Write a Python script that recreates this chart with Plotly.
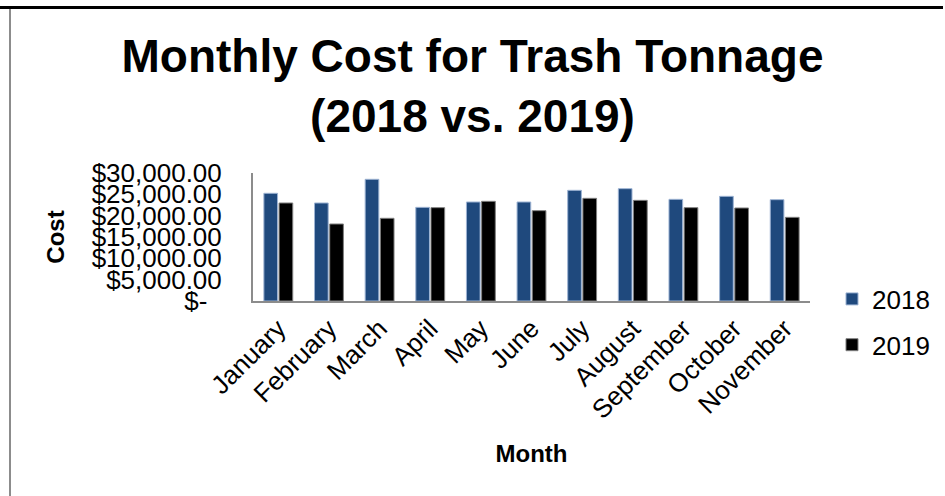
import plotly.graph_objects as go

months = ["January", "February", "March", "April", "May", "June", "July",
          "August", "September", "October", "November"]
cost_2018 = [25240, 22970, 28520, 21950, 23200, 23200, 25940, 26330, 23830, 24530, 23750]
cost_2019 = [22970, 18050, 19380, 21880, 23360, 21170, 24060, 23590, 21880, 21800, 19610]
tick_vals = [0, 5000, 10000, 15000, 20000, 25000, 30000]
tick_text = ["$-\u00a0\u00a0", "$5,000.00", "$10,000.00", "$15,000.00",
             "$20,000.00", "$25,000.00", "$30,000.00"]

W, H = 945, 496
L, R, T, B = 253, 810, 173, 301
PW, PH = R - L, B - T


def px(x):
    return (x - L) / PW


def py(y):
    return (B - y) / PH


FONT = "Arial, Liberation Sans, sans-serif"

fig = go.Figure()
fig.add_trace(go.Bar(x=months, y=cost_2018, name="2018", legendgroup="a",
                     marker=dict(color="#1F497D", line=dict(color="#9DB3D3", width=1))))
fig.add_trace(go.Bar(x=months, y=cost_2019, name="2019", legendgroup="b",
                     marker=dict(color="#000000", line=dict(color="#7F7F7F", width=1))))

fig.update_layout(
    width=W, height=H,
    margin=dict(l=L, r=W - R, t=T, b=H - B, autoexpand=False),
    paper_bgcolor="white", plot_bgcolor="white",
    font=dict(family=FONT, color="black"),
    bargap=0.4, bargroupgap=0.1,
    title=dict(text="<b>Monthly Cost for Trash Tonnage<br>(2018 vs. 2019)</b>",
               x=0.5, xanchor="center", xref="container",
               y=1 - 72 / H, yanchor="middle", yref="container",
               font=dict(size=46, family=FONT, color="black")),
    legend=dict(x=px(832), xanchor="left", y=py(322), yanchor="middle",
                traceorder="grouped", tracegroupgap=9,
                font=dict(size=26, family=FONT, color="black"),
                bgcolor="rgba(0,0,0,0)"),
    xaxis=dict(showline=True, linecolor="#8C8C8C", linewidth=2, ticks="",
               tickangle=-45, tickfont=dict(size=26, family=FONT, color="black"),
               showgrid=False,
               title=dict(text="<b>Month</b>", font=dict(size=24, family=FONT, color="black"),
                          standoff=22)),
    yaxis=dict(range=[0, 30000], tickvals=tick_vals, ticktext=tick_text,
               showline=True, linecolor="#8C8C8C", linewidth=2, ticks="",
               showgrid=False, zeroline=False, ticklabelstandoff=24,
               tickfont=dict(size=26, family=FONT, color="black"),
               title=dict(text="<b>Cost</b>", font=dict(size=24, family=FONT, color="black"),
                          standoff=20)),
    shapes=[
        dict(type="line", xref="paper", yref="paper", x0=px(0), x1=px(943),
             y0=py(7.5), y1=py(7.5), line=dict(color="black", width=3)),
        dict(type="line", xref="paper", yref="paper", x0=px(10), x1=px(10),
             y0=py(9), y1=py(496), line=dict(color="#8C8C8C", width=2)),
    ],
)

fig.write_html("out.html", config={"displayModeBar": False},
               post_script="document.body.style.margin='0px';document.body.style.overflow='hidden';")
